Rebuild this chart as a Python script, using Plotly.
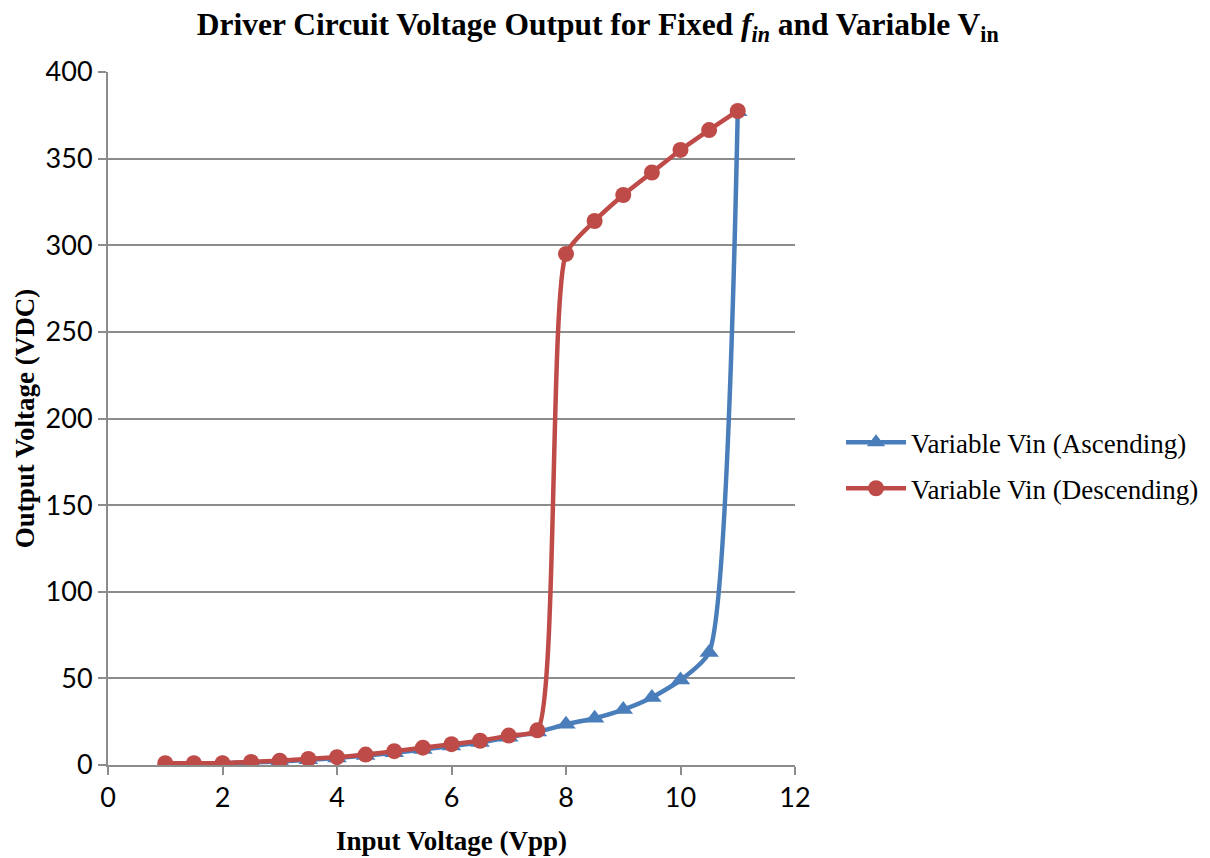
import plotly.graph_objects as go

x_vals = [1, 1.5, 2, 2.5, 3, 3.5, 4, 4.5, 5, 5.5, 6, 6.5, 7, 7.5, 8, 8.5, 9, 9.5, 10, 10.5, 11]
ascending = [0.5, 0.7, 1, 1.5, 2, 3, 4, 5.5, 7, 9, 11, 13, 16, 19, 23.5, 27, 32, 39, 49, 65, 377]
descending = [1, 1, 1, 1.8, 2.5, 3.5, 4.5, 6, 8, 10, 12, 14, 17, 20, 295, 314, 329, 342, 355, 366.5, 377.5]

blue = "#4A7EBB"
red = "#BE4B48"
grid = "#8C8C8C"

fig = go.Figure()
fig.add_trace(go.Scatter(
    x=x_vals, y=ascending, name="Variable Vin (Ascending)", legendgroup="a",
    mode="lines+markers",
    line=dict(color=blue, width=4.5, shape="spline", smoothing=0.6),
    marker=dict(symbol="triangle-up", size=17, color=blue),
))
fig.add_trace(go.Scatter(
    x=x_vals, y=descending, name="Variable Vin (Descending)", legendgroup="b",
    mode="lines+markers",
    line=dict(color=red, width=4.5, shape="spline", smoothing=0.6),
    marker=dict(symbol="circle", size=16, color=red),
))

fig.update_layout(
    width=1210, height=858,
    paper_bgcolor="white", plot_bgcolor="white",
    margin=dict(l=108, r=415, t=72, b=93, autoexpand=False),
    title=dict(
        text="<b>Driver Circuit Voltage Output for Fixed <i>f<sub>in</sub></i> and Variable V<sub>in</sub></b>",
        x=0.494, xanchor="center", y=0.972, yanchor="middle",
        font=dict(family="Liberation Serif", size=31.5, color="black"),
    ),
    legend=dict(
        x=1.067, xanchor="left", y=0.432, yanchor="middle",
        font=dict(family="Liberation Serif", size=27, color="black"),
        tracegroupgap=8, itemwidth=60,
    ),
    xaxis=dict(
        range=[0, 12], tickvals=[0, 2, 4, 6, 8, 10, 12],
        showgrid=False, zeroline=False, automargin=False,
        showline=True, linecolor=grid, linewidth=2,
        ticks="outside", ticklen=8, tickwidth=2, tickcolor=grid,
        tickfont=dict(family="Lato", size=27, color="black"),
        title=dict(text="<b>Input Voltage (Vpp)</b>",
                   font=dict(family="Liberation Serif", size=27, color="black"), standoff=19),
    ),
    yaxis=dict(
        range=[0, 400], tickvals=[0, 50, 100, 150, 200, 250, 300, 350, 400],
        showgrid=True, gridcolor=grid, gridwidth=2, zeroline=False, automargin=False,
        showline=True, linecolor=grid, linewidth=2,
        ticks="outside", ticklen=8, tickwidth=2, tickcolor=grid,
        tickfont=dict(family="Lato", size=27, color="black"),
        title=dict(text="<b>Output Voltage (VDC)</b>",
                   font=dict(family="Liberation Serif", size=27, color="black"), standoff=3),
    ),
)

fig.write_html("out.html")
